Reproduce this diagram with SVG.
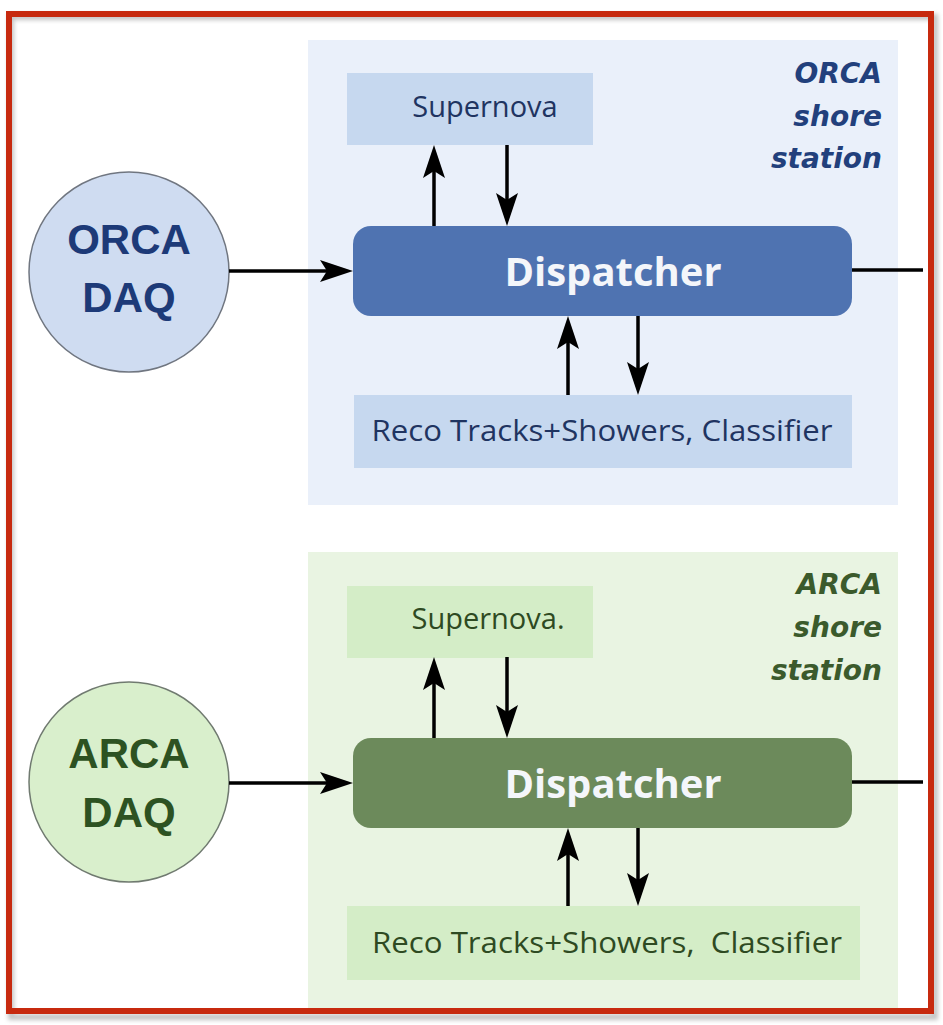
<svg xmlns="http://www.w3.org/2000/svg" width="943" height="1025" viewBox="0 0 943 1025">
<style>
.panelO{fill:#eaf0fa}
.panelA{fill:#e9f4e2}
.boxO{fill:#c6d8ef}
.boxA{fill:#d4edc7}
.dispO{fill:#4f73b1}
.dispA{fill:#6c8a5b}
.disp-t{font-family:"Open Sans","DejaVu Sans",sans-serif;font-weight:700;font-size:40px;fill:#f4f6fa;text-anchor:middle}
.box-tO{font-family:"Open Sans","DejaVu Sans",sans-serif;font-size:29px;fill:#1f3461;text-anchor:middle}
.box-tA{font-family:"Open Sans","DejaVu Sans",sans-serif;font-size:29px;fill:#2e4a22;text-anchor:middle;white-space:pre}
.daq-t{font-family:"Liberation Sans",Arial,sans-serif;font-weight:700;font-size:42px;text-anchor:middle}
.st{font-family:"DejaVu Sans","Open Sans",sans-serif;font-weight:700;font-style:italic;font-size:28px;text-anchor:end}
.conn{stroke:#000;stroke-width:3.5;fill:none}
</style>
<defs>
<marker id="ah" markerUnits="userSpaceOnUse" markerWidth="40" markerHeight="30" viewBox="-10 -15 40 30" refX="0" refY="0" orient="auto">
<path d="M0,0 L-7,-11 L26,0 L-7,11 Z" fill="#000"/>
</marker>
<filter id="sh" x="-5%" y="-5%" width="110%" height="110%">
<feGaussianBlur stdDeviation="2"/>
</filter>
</defs>
<rect x="0" y="0" width="943" height="1025" fill="#ffffff"/>

<g id="orca-panel">
<rect class="panelO" x="308" y="40" width="590" height="465"/>
<text class="st" fill="#22407c" x="882" y="83">ORCA</text>
<text class="st" fill="#22407c" x="882" y="126">shore</text>
<text class="st" fill="#22407c" x="882" y="168">station</text>
</g>
<g id="arca-panel">
<rect class="panelA" x="308" y="552" width="590" height="460"/>
<text class="st" fill="#3b5a2c" x="882" y="594">ARCA</text>
<text class="st" fill="#3b5a2c" x="882" y="637">shore</text>
<text class="st" fill="#3b5a2c" x="882" y="680">station</text>
</g>

<g id="orca-daq">
<circle cx="129" cy="272" r="100" fill="#cfdcf1" stroke="#707680" stroke-width="1.5"/>
<text class="daq-t" fill="#1d3a78" x="129" y="254">ORCA</text>
<text class="daq-t" fill="#1d3a78" x="129" y="312">DAQ</text>
</g>
<g id="orca-supernova">
<rect class="boxO" x="347" y="73" width="246" height="72"/>
<text class="box-tO" x="485" y="117">Supernova</text>
</g>
<g id="orca-dispatcher">
<rect class="dispO" x="353" y="226" width="499" height="90" rx="18"/>
<text class="disp-t" x="613" y="286">Dispatcher</text>
</g>
<g id="orca-reco">
<rect class="boxO" x="354" y="395" width="498" height="73"/>
<text class="box-tO" x="602" y="441" textLength="461" lengthAdjust="spacingAndGlyphs">Reco Tracks+Showers, Classifier</text>
</g>

<g id="arca-daq">
<circle cx="129" cy="782" r="100" fill="#d9efcc" stroke="#707a70" stroke-width="1.5"/>
<text class="daq-t" fill="#2d5222" x="129" y="768">ARCA</text>
<text class="daq-t" fill="#2d5222" x="129" y="827">DAQ</text>
</g>
<g id="arca-supernova">
<rect class="boxA" x="347" y="586" width="246" height="72"/>
<text class="box-tA" x="488" y="629">Supernova.</text>
</g>
<g id="arca-dispatcher">
<rect class="dispA" x="353" y="738" width="499" height="90" rx="18"/>
<text class="disp-t" x="613" y="798">Dispatcher</text>
</g>
<g id="arca-reco">
<rect class="boxA" x="347" y="906" width="513" height="74"/>
<text class="box-tA" x="607" y="953" textLength="470" lengthAdjust="spacingAndGlyphs">Reco Tracks+Showers,  Classifier</text>
</g>

<g id="connectors">
<line class="conn" x1="229" y1="271" x2="327" y2="271" marker-end="url(#ah)"/>
<line class="conn" x1="852" y1="270" x2="923" y2="270"/>
<line class="conn" x1="434" y1="226" x2="434" y2="171" marker-end="url(#ah)"/>
<line class="conn" x1="507" y1="145" x2="507" y2="200" marker-end="url(#ah)"/>
<line class="conn" x1="568" y1="395" x2="568" y2="342" marker-end="url(#ah)"/>
<line class="conn" x1="638" y1="316" x2="638" y2="369" marker-end="url(#ah)"/>

<line class="conn" x1="229" y1="783" x2="327" y2="783" marker-end="url(#ah)"/>
<line class="conn" x1="852" y1="782" x2="923" y2="782"/>
<line class="conn" x1="434" y1="738" x2="434" y2="683" marker-end="url(#ah)"/>
<line class="conn" x1="507" y1="657" x2="507" y2="712" marker-end="url(#ah)"/>
<line class="conn" x1="568" y1="906" x2="568" y2="854" marker-end="url(#ah)"/>
<line class="conn" x1="638" y1="828" x2="638" y2="880" marker-end="url(#ah)"/>
</g>

<g id="frame">
<rect x="11" y="17" width="924" height="1000" fill="none" stroke="#8a8a8a" stroke-width="6" opacity="0.5" filter="url(#sh)"/>
<rect x="9" y="14" width="922" height="997" fill="none" stroke="#c72a0f" stroke-width="6"/>
</g>
</svg>
